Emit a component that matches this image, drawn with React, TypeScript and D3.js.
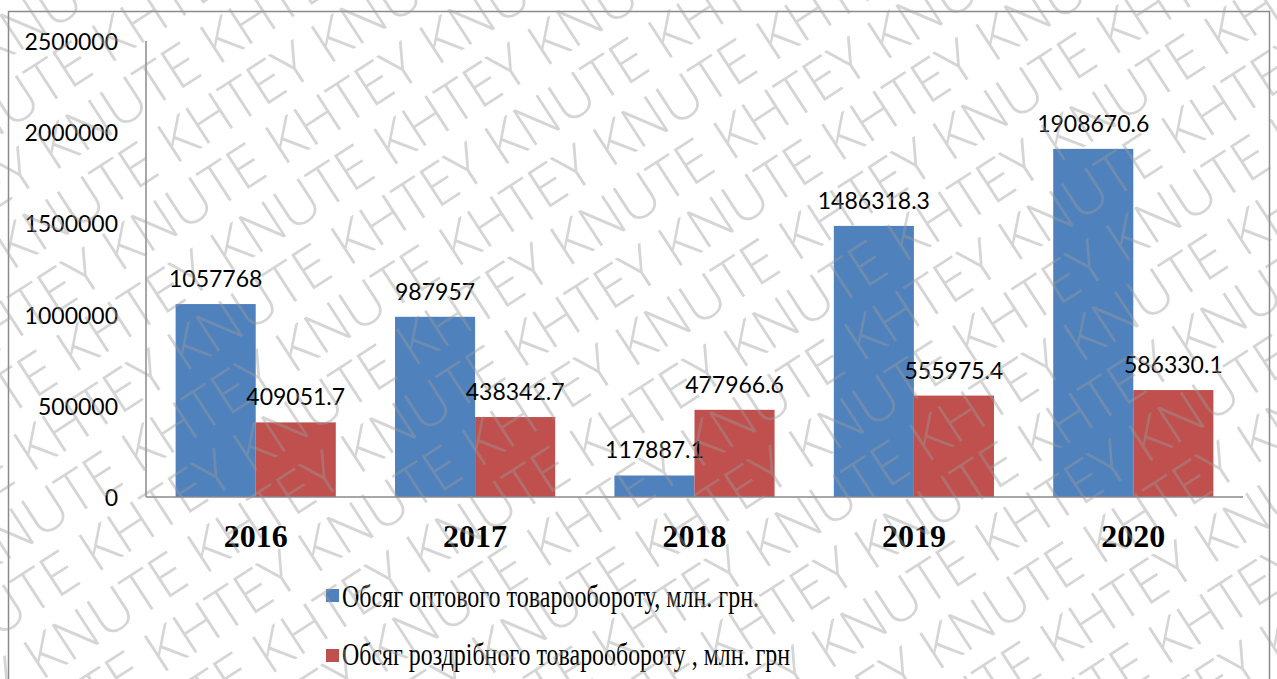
import React from "react";
import * as d3 from "d3";

const years = ["2016", "2017", "2018", "2019", "2020"];
const wholesale = [1057768, 987957, 117887.1, 1486318.3, 1908670.6];
const retail = [409051.7, 438342.7, 477966.6, 555975.4, 586330.1];
const wholesaleLabels = ["1057768", "987957", "117887.1", "1486318.3", "1908670.6"];
const retailLabels = ["409051.7", "438342.7", "477966.6", "555975.4", "586330.1"];
const yTicks = [0, 500000, 1000000, 1500000, 2000000, 2500000];
const seriesNames = [
  "Обсяг оптового товарообороту, млн. грн.",
  "Обсяг роздрібного товарообороту , млн. грн",
];
const colors = ["#4F81BD", "#C0504D"];

const W = 1277;
const H = 679;
const plotLeft = 146;
const plotRight = 1243;
const plotTop = 41;
const plotBottom = 497;

export default function App() {
  const x = d3.scaleBand<string>().domain(years).range([plotLeft, plotRight]).paddingInner(0.27).paddingOuter(0.135);
  const y = d3.scaleLinear().domain([0, 2500000]).range([plotBottom, plotTop]);
  const sub = d3.scaleBand<number>().domain([0, 1]).range([0, x.bandwidth()]);
  const series = [wholesale, retail];
  const labels = [wholesaleLabels, retailLabels];

  const wmRows: number[] = d3.range(-14, 24);
  const wmText = "KHTEY KNUTE ".repeat(14);

  return (
    <svg width={W} height={H} style={{ position: "absolute", left: 0, top: 0, background: "#fff" }}>
      <rect x={0} y={0} width={W} height={H} fill="#fff" />
      <rect x={8.5} y={11.5} width={1261} height={720} fill="none" stroke="#8a8a8a" strokeWidth={1.5} />
      {years.map((yr, i) => (
        <g key={yr}>
          {series.map((s, k) => (
            <rect
              key={k}
              x={(x(yr) as number) + (sub(k) as number)}
              y={y(s[i])}
              width={sub.bandwidth()}
              height={plotBottom - y(s[i])}
              fill={colors[k]}
            />
          ))}
        </g>
      ))}
      <line x1={plotLeft} x2={plotLeft} y1={plotTop} y2={plotBottom} stroke="#8a8a8a" strokeWidth={1.5} />
      <line x1={plotLeft} x2={plotRight} y1={plotBottom} y2={plotBottom} stroke="#8a8a8a" strokeWidth={1.5} />
      {yTicks.map((t) => (
        <text key={t} x={118} y={y(t)} textAnchor="end" dominantBaseline="central" fontFamily="Lato, 'Open Sans', sans-serif" fontSize={23} fill="#000">
          {t}
        </text>
      ))}
      {years.map((yr) => (
        <text key={yr} x={(x(yr) as number) + x.bandwidth() / 2} y={536} textAnchor="middle" dominantBaseline="central" fontFamily="'Liberation Serif', 'Times New Roman', serif" fontWeight="bold" fontSize={32} fill="#000">
          {yr}
        </text>
      ))}
      {years.map((yr, i) => (
        <g key={"l" + yr}>
          {series.map((s, k) => (
            <text
              key={k}
              x={(x(yr) as number) + (sub(k) as number) + sub.bandwidth() / 2}
              y={y(s[i]) - 26}
              textAnchor="middle"
              dominantBaseline="central"
              fontFamily="Lato, 'Open Sans', sans-serif"
              fontSize={23}
              fill="#000"
            >
              {labels[k][i]}
            </text>
          ))}
        </g>
      ))}
      {seriesNames.map((n, k) => (
        <g key={n}>
          <rect x={326} y={589 + k * 60} width={13} height={13} fill={colors[k]} />
          <text x={342} y={607 + k * 58} fontFamily="'Liberation Serif', 'Times New Roman', serif" fontSize={31} fill="#000" textLength={k === 0 ? 417 : 448} lengthAdjust="spacingAndGlyphs">
            {n}
          </text>
        </g>
      ))}
      <g style={{ pointerEvents: "none" }} transform="rotate(-33 640 340)">
        {wmRows.map((r) => (
          <text
            key={r}
            x={-700 + (r % 2) * 90}
            y={r * 60}
            fontFamily="'Open Sans', 'Liberation Sans', sans-serif"
            fontWeight={300}
            fontSize={58}
            fill="#9a9a9a"
            fillOpacity={0.42}
          >
            {wmText}
          </text>
        ))}
      </g>
    </svg>
  );
}
